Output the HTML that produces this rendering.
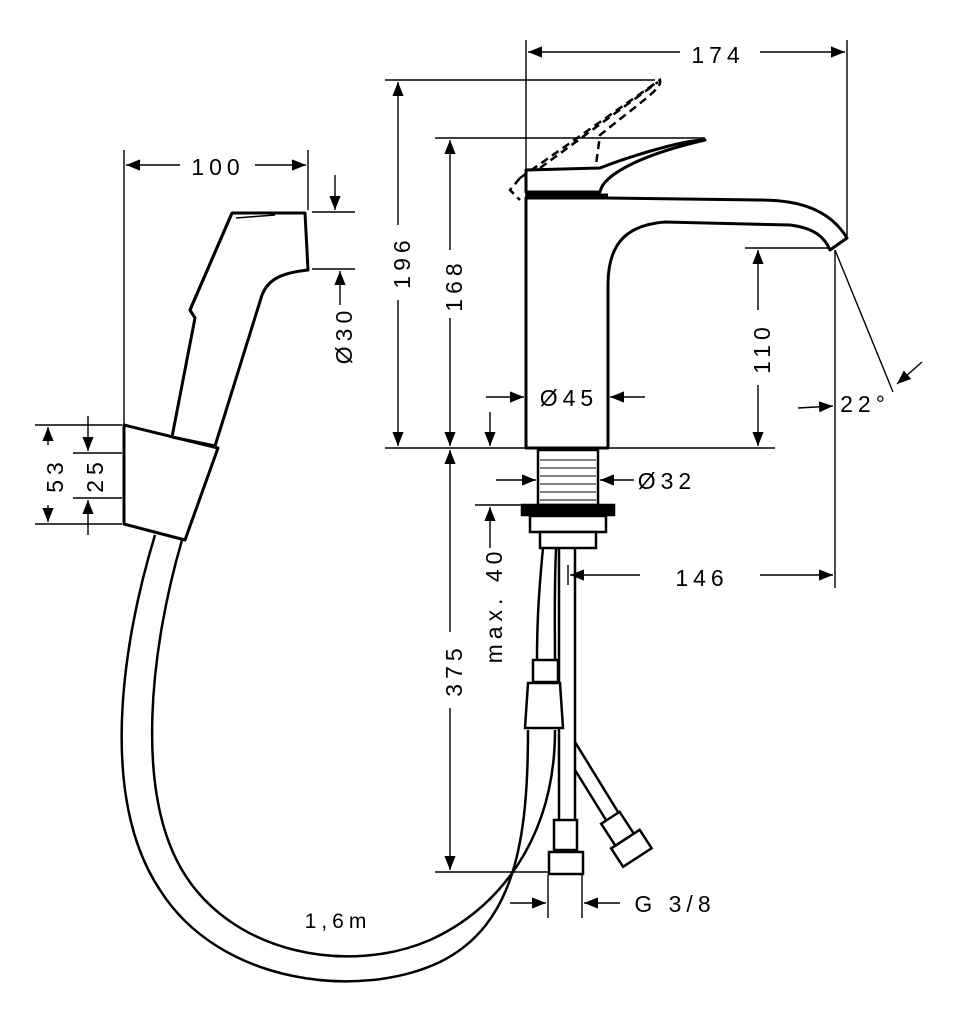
<!DOCTYPE html>
<html><head><style>
html,body{margin:0;padding:0;background:#fff;}
svg{display:block;}
text{font-family:"Liberation Sans",sans-serif;font-size:23px;fill:#000;letter-spacing:5px;}
</style></head><body>
<svg width="957" height="1024" viewBox="0 0 957 1024" xmlns="http://www.w3.org/2000/svg">
<defs>
<marker id="a" viewBox="0 0 10 10" refX="10" refY="5" markerWidth="14" markerHeight="14" markerUnits="userSpaceOnUse" orient="auto-start-reverse"><path d="M0,1 L10,5 L0,9 Z" fill="#000"/></marker>
</defs>
<g stroke="#000" fill="none" stroke-width="1.4">
<!-- 174 -->
<line x1="526" y1="40" x2="526" y2="200"/>
<line x1="847" y1="40" x2="847" y2="236"/>
<line x1="528" y1="52" x2="680" y2="52" marker-start="url(#a)"/>
<line x1="760" y1="52" x2="845" y2="52" marker-end="url(#a)"/>
<!-- 196 -->
<line x1="385" y1="80" x2="655" y2="80"/>
<line x1="398" y1="82" x2="398" y2="225" marker-start="url(#a)"/>
<line x1="398" y1="300" x2="398" y2="446" marker-end="url(#a)"/>
<!-- 168 -->
<line x1="435" y1="138" x2="705" y2="138"/>
<line x1="450" y1="140" x2="450" y2="250" marker-start="url(#a)"/>
<line x1="450" y1="318" x2="450" y2="446" marker-end="url(#a)"/>
<!-- base line -->
<line x1="385" y1="448" x2="775" y2="448"/>
<!-- 110 -->
<line x1="745" y1="248" x2="830" y2="248"/>
<line x1="758" y1="250" x2="758" y2="310" marker-start="url(#a)"/>
<line x1="758" y1="385" x2="758" y2="446" marker-end="url(#a)"/>
<!-- 22 deg -->
<line x1="835" y1="250" x2="835" y2="588"/>
<line x1="835" y1="250" x2="893" y2="392"/>
<line x1="798" y1="408" x2="833" y2="406" marker-end="url(#a)"/>
<line x1="922" y1="362" x2="897" y2="384" marker-end="url(#a)"/>
<!-- Ø45 -->
<line x1="486" y1="397" x2="524" y2="397" marker-end="url(#a)"/>
<line x1="645" y1="397" x2="610" y2="397" marker-end="url(#a)"/>
<line x1="490" y1="412" x2="490" y2="446" marker-end="url(#a)"/>
<!-- Ø32 -->
<line x1="496" y1="480" x2="536" y2="480" marker-end="url(#a)"/>
<line x1="634" y1="480" x2="600" y2="480" marker-end="url(#a)"/>
<!-- max 40 -->
<line x1="475" y1="505" x2="525" y2="505"/>
<line x1="490" y1="548" x2="490" y2="507" marker-end="url(#a)"/>
<!-- 146 -->
<line x1="568" y1="565" x2="568" y2="585"/>
<line x1="640" y1="575" x2="570" y2="575" marker-end="url(#a)"/>
<line x1="760" y1="575" x2="833" y2="575" marker-end="url(#a)"/>
<!-- 375 -->
<line x1="450" y1="450" x2="450" y2="632" marker-start="url(#a)"/>
<line x1="450" y1="708" x2="450" y2="870" marker-end="url(#a)"/>
<line x1="435" y1="872" x2="552" y2="872"/>
<!-- G 3/8 -->
<line x1="548" y1="875" x2="548" y2="918"/>
<line x1="582" y1="875" x2="582" y2="918"/>
<line x1="510" y1="903" x2="546" y2="903" marker-end="url(#a)"/>
<line x1="620" y1="903" x2="584" y2="903" marker-end="url(#a)"/>
<!-- 100 -->
<line x1="124" y1="150" x2="124" y2="425"/>
<line x1="308" y1="150" x2="308" y2="210"/>
<line x1="126" y1="165" x2="180" y2="165" marker-start="url(#a)"/>
<line x1="255" y1="165" x2="306" y2="165" marker-end="url(#a)"/>
<!-- Ø30 -->
<line x1="312" y1="212" x2="355" y2="212"/>
<line x1="312" y1="269" x2="355" y2="269"/>
<line x1="335" y1="175" x2="335" y2="210" marker-end="url(#a)"/>
<line x1="340" y1="305" x2="340" y2="271" marker-end="url(#a)"/>
<!-- 53 / 25 -->
<line x1="35" y1="425" x2="122" y2="425"/>
<line x1="73" y1="453" x2="122" y2="453"/>
<line x1="73" y1="498" x2="122" y2="498"/>
<line x1="35" y1="524" x2="122" y2="524"/>
<line x1="48" y1="445" x2="48" y2="427" marker-end="url(#a)"/>
<line x1="48" y1="505" x2="48" y2="522" marker-end="url(#a)"/>
<line x1="88" y1="416" x2="88" y2="451" marker-end="url(#a)"/>
<line x1="88" y1="535" x2="88" y2="500" marker-end="url(#a)"/>
</g>

<!-- faucet -->
<g stroke="#000" fill="none" stroke-width="3" stroke-linejoin="round">
<path d="M526,198 L526,448 L608,448 L608,285 C608,245 625,225 665,222 L790,225 C815,228 825,238 830,250 L847,238 C830,210 800,200 760,200 L608,198 Z" fill="#fff"/>
<path d="M526,170 L526,192 L600,192 C603,175 640,155 705,140 C680,140 620,160 600,168 L526,170 Z" fill="#fff"/>
<path d="M526,195 L608,195" />
</g>
<g stroke="#000" fill="none" stroke-width="2.5" stroke-dasharray="8,5">
<path d="M520,178 L660,80 C662,88 650,95 600,135 L596,165"/>
<path d="M540,168 L658,82"/>
<path d="M520,178 L510,190 L520,200"/>
</g>
<!-- shank -->
<g stroke="#000" fill="#fff" stroke-width="2.5">
<rect x="538" y="450" width="60" height="55"/>
<rect x="522" y="505" width="92" height="10" fill="#000"/>
<rect x="530" y="516" width="76" height="16"/>
<rect x="540" y="532" width="56" height="16"/>
</g>
<g stroke="#000" stroke-width="1">
<line x1="540" y1="460" x2="596" y2="460"/><line x1="540" y1="468" x2="596" y2="468"/><line x1="540" y1="476" x2="596" y2="476"/><line x1="540" y1="484" x2="596" y2="484"/><line x1="540" y1="492" x2="596" y2="492"/><line x1="540" y1="500" x2="596" y2="500"/>
</g>
<!-- hoses -->
<g stroke="#000" fill="none" stroke-width="2.5">
<path d="M543,548 C538,600 537,630 537,660"/>
<path d="M556,548 C554,600 555,630 555,660"/>
<line x1="559" y1="548" x2="559" y2="820"/>
<line x1="575" y1="548" x2="575" y2="820"/>
<path d="M575,742 L618,812"/>
<path d="M575,770 L606,820"/>
<path d="M155,535 C120,650 100,800 160,890 C220,985 360,1000 440,962 C515,925 528,840 528,730"/>
<path d="M182,540 C150,650 135,790 182,870 C232,955 350,975 430,940 C497,910 555,840 555,730"/>
<path d="M528,683 L560,683 L563,728 L525,728 Z" fill="#fff"/>
<rect x="533" y="660" width="25" height="22" fill="#fff"/>
<rect x="554" y="820" width="23" height="30" fill="#fff"/>
<rect x="549" y="852" width="34" height="22" fill="#fff"/>
<g transform="rotate(-33 630 848)"><rect x="614" y="838" width="34" height="22" fill="#fff"/><rect x="619" y="812" width="22" height="26" fill="#fff"/></g>
</g>
<!-- hand shower -->
<g stroke="#000" fill="#fff" stroke-width="3" stroke-linejoin="round">
<path d="M124,425 L124,524 L185,540 L218,448 Z"/>
<path d="M172,437 L215,446 L262,295 C268,280 280,273 308,270 L305,213 L232,213 L190,310 L195,318 L172,437 Z"/>
<path d="M232,213 L190,310 L195,318" fill="none"/>
<path d="M236,218 L275,215" fill="none" stroke-width="1.5"/>
</g>
<!-- labels -->
<text x="718" y="63" text-anchor="middle">174</text>
<text x="218" y="175" text-anchor="middle">100</text>
<text transform="translate(410,262) rotate(-90)" text-anchor="middle">196</text>
<text transform="translate(462,285) rotate(-90)" text-anchor="middle">168</text>
<text transform="translate(770,348) rotate(-90)" text-anchor="middle">110</text>
<text transform="translate(352,335) rotate(-90)" text-anchor="middle">Ø30</text>
<text x="569" y="406" text-anchor="middle">Ø45</text>
<text x="667" y="489" text-anchor="middle">Ø32</text>
<text x="865" y="412" text-anchor="middle">22°</text>
<text x="702" y="586" text-anchor="middle">146</text>
<text transform="translate(462,670) rotate(-90)" text-anchor="middle">375</text>
<text transform="translate(502,605) rotate(-90)" text-anchor="middle">max. 40</text>
<text transform="translate(63,475) rotate(-90)" text-anchor="middle">53</text>
<text transform="translate(103,475) rotate(-90)" text-anchor="middle">25</text>
<text x="675" y="912" text-anchor="middle">G 3/8</text>
<text x="338" y="928" text-anchor="middle" style="font-size:21px">1,6m</text>
</svg>
</body></html>
